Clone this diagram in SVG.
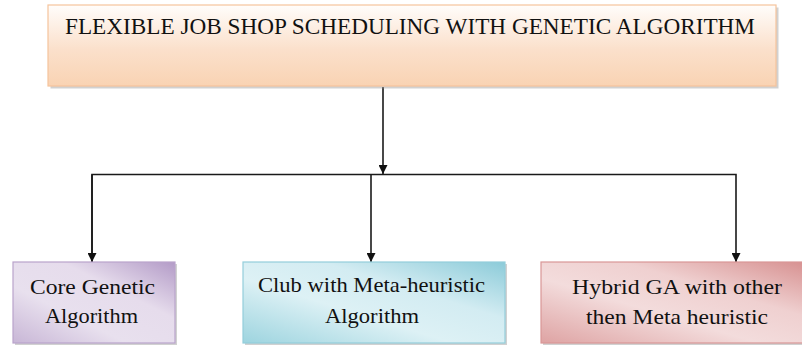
<svg xmlns="http://www.w3.org/2000/svg" width="802" height="345" viewBox="0 0 802 345">
<style>
text{font-family:"Liberation Serif","Times New Roman",serif;fill:#111;}
.title{font-size:23.5px;}
.lbl{font-size:22px;text-anchor:middle;}
.conn{stroke:#1a1a1a;stroke-width:1.6;fill:none;}
.shadow{fill:#9a9a9a;opacity:0.45;}
</style>
<defs>
<linearGradient id="gTop" x1="0" y1="0" x2="0" y2="1">
<stop offset="0" stop-color="#fffdfb"/>
<stop offset="0.55" stop-color="#fbe0cb"/>
<stop offset="1" stop-color="#f9d3b3"/>
</linearGradient>
<linearGradient id="gPur" x1="0" y1="1" x2="1" y2="0">
<stop offset="0" stop-color="#c8b6d6"/>
<stop offset="0.35" stop-color="#e8e0ee"/>
<stop offset="0.65" stop-color="#e6dcec"/>
<stop offset="1" stop-color="#b39bc7"/>
</linearGradient>
<linearGradient id="gBlu" x1="0" y1="1" x2="1" y2="0">
<stop offset="0" stop-color="#9dd4df"/>
<stop offset="0.4" stop-color="#ddf1f5"/>
<stop offset="0.65" stop-color="#d3ecf2"/>
<stop offset="1" stop-color="#8ccbd9"/>
</linearGradient>
<linearGradient id="gRed" x1="0" y1="1" x2="1" y2="0">
<stop offset="0" stop-color="#dea3a3"/>
<stop offset="0.4" stop-color="#f3dcdc"/>
<stop offset="0.65" stop-color="#efd0d0"/>
<stop offset="1" stop-color="#d68e8e"/>
</linearGradient>
<marker id="arr" viewBox="0 0 10 10" refX="10" refY="5" markerWidth="9" markerHeight="9" markerUnits="userSpaceOnUse" orient="auto">
<path d="M0,0 L10,5 L0,10 z" fill="#111"/>
</marker>
</defs>

<g id="connectors">
<line class="conn" x1="383" y1="87" x2="383" y2="174" marker-end="url(#arr)"/>
<polyline class="conn" points="92,262 92,174.5 736,174.5 736,262" marker-end="url(#arr)"/>
<line class="conn" x1="371" y1="174.5" x2="371" y2="262" marker-end="url(#arr)"/>
<line class="conn" x1="92" y1="174.5" x2="92" y2="262" marker-end="url(#arr)"/>
</g>

<g id="node-top">
<rect class="shadow" x="50.5" y="7.5" width="728" height="81"/>
<rect x="48" y="5" width="728" height="81" fill="url(#gTop)" stroke="#f6c49c" stroke-width="1.2"/>
<text class="title" x="65" y="34" textLength="690" lengthAdjust="spacingAndGlyphs">FLEXIBLE JOB SHOP SCHEDULING WITH GENETIC ALGORITHM</text>
</g>

<g id="node-core">
<rect class="shadow" x="15" y="264" width="162" height="81"/>
<rect x="13" y="262" width="162" height="81" fill="url(#gPur)" stroke="#b9a3cb" stroke-width="1.2"/>
<text class="lbl" x="92.5" y="294" textLength="125" lengthAdjust="spacingAndGlyphs">Core Genetic</text>
<text class="lbl" x="91.5" y="323" textLength="93" lengthAdjust="spacingAndGlyphs">Algorithm</text>
</g>

<g id="node-club">
<rect class="shadow" x="245" y="264" width="262" height="81"/>
<rect x="243" y="262" width="262" height="81" fill="url(#gBlu)" stroke="#93cedb" stroke-width="1.2"/>
<text class="lbl" x="371.5" y="292" textLength="227" lengthAdjust="spacingAndGlyphs">Club with Meta-heuristic</text>
<text class="lbl" x="372" y="323" textLength="94" lengthAdjust="spacingAndGlyphs">Algorithm</text>
</g>

<g id="node-hybrid">
<rect class="shadow" x="543" y="264" width="272" height="81"/>
<rect x="541" y="262" width="272" height="81" fill="url(#gRed)" stroke="#d99797" stroke-width="1.2"/>
<text class="lbl" x="677" y="294" textLength="210" lengthAdjust="spacingAndGlyphs">Hybrid GA with other</text>
<text class="lbl" x="677" y="324" textLength="182" lengthAdjust="spacingAndGlyphs">then Meta heuristic</text>
</g>
</svg>
